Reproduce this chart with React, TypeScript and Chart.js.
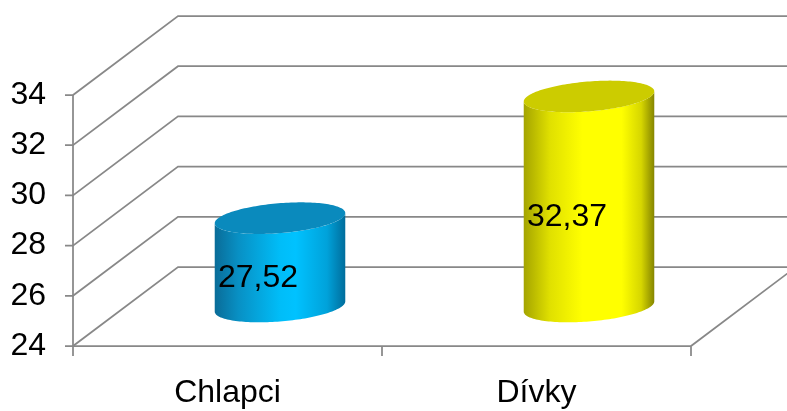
import React, { useEffect, useRef } from 'react';
import { Chart, registerables } from 'chart.js';

Chart.register(...registerables);

// ---- data ----
const categories: string[] = ['Chlapci', 'Dívky'];
const values: number[] = [27.52, 32.37];
const yMin = 24;
const yMax = 34;
const yStep = 2;

// ---- styles ----
const sideStops: [number, string][][] = [
  [[0, '#0a6c98'], [0.18, '#0890c4'], [0.5, '#00bdf8'], [0.62, '#00c2ff'], [0.86, '#00a2da'], [1, '#006d9c']],
  [[0, '#a4a400'], [0.2, '#e0e000'], [0.45, '#ffff00'], [0.75, '#ffff00'], [0.9, '#d6d600'], [1, '#858500']],
];
const topColors: string[] = ['#0a8abd', '#cccc00'];

const FONT = "'Liberation Sans', Arial, Helvetica, sans-serif";
const FONT_SIZE = 32;
const DEPTH_X = 105;
const DEPTH_Y = 79;
const LINE = '#888888';

const fmt = (v: number) => v.toFixed(2).replace('.', ',');

const threeD = {
  id: 'threeD',
  beforeDatasetsDraw(chart: any) {
    const { ctx, chartArea } = chart;
    const { left, right, top, bottom } = chartArea;
    const ys = chart.scales.y;
    ctx.save();
    ctx.strokeStyle = LINE;
    ctx.lineWidth = 1.75;
    ys.ticks.forEach((t: any) => {
      const y = ys.getPixelForValue(t.value);
      ctx.beginPath();
      ctx.moveTo(left - 8, y);
      ctx.lineTo(left, y);
      ctx.lineTo(left + DEPTH_X, y - DEPTH_Y);
      ctx.lineTo(right + DEPTH_X, y - DEPTH_Y);
      ctx.stroke();
    });
    ctx.beginPath();
    ctx.moveTo(left, top);
    ctx.lineTo(left, bottom + 10);
    ctx.moveTo(left, bottom);
    ctx.lineTo(right, bottom);
    ctx.lineTo(right + DEPTH_X, bottom - DEPTH_Y);
    const n = categories.length;
    for (let i = 1; i <= n; i++) {
      const x = left + ((right - left) * i) / n;
      ctx.moveTo(x, bottom);
      ctx.lineTo(x, bottom + 10);
    }
    ctx.stroke();
    ctx.restore();
  },
  afterDatasetsDraw(chart: any) {
    const { ctx, chartArea } = chart;
    const { left, right } = chartArea;
    const xs = chart.scales.x;
    const ys = chart.scales.y;
    const catW = (right - left) / categories.length;
    const r = catW * 0.2;
    const kx = 0.2 * DEPTH_X;
    const ky = 0.2 * DEPTH_Y;
    const t0 = Math.atan2(kx, r);
    const steps = 80;
    values.forEach((v, i) => {
      const cx = xs.getPixelForValue(i) + DEPTH_X / 2;
      const cyTop = ys.getPixelForValue(v) - DEPTH_Y / 2;
      const cyBot = ys.getPixelForValue(yMin) - DEPTH_Y / 2;
      const pt = (t: number, cy: number) => [cx + r * Math.cos(t) + kx * Math.sin(t), cy - ky * Math.sin(t)];
      const halfW = Math.sqrt(r * r + kx * kx);
      ctx.save();
      ctx.beginPath();
      for (let s = 0; s <= steps; s++) {
        const t = t0 + Math.PI + (Math.PI * s) / steps;
        const [x, y] = pt(t, cyTop);
        if (s === 0) ctx.moveTo(x, y);
        else ctx.lineTo(x, y);
      }
      for (let s = 0; s <= steps; s++) {
        const t = t0 + 2 * Math.PI - (Math.PI * s) / steps;
        const [x, y] = pt(t, cyBot);
        ctx.lineTo(x, y);
      }
      ctx.closePath();
      const g = ctx.createLinearGradient(cx - halfW, 0, cx + halfW, 0);
      sideStops[i].forEach(([o, c]) => g.addColorStop(o, c));
      ctx.fillStyle = g;
      ctx.fill();
      ctx.beginPath();
      for (let s = 0; s <= steps * 2; s++) {
        const t = (2 * Math.PI * s) / (steps * 2);
        const [x, y] = pt(t, cyTop);
        if (s === 0) ctx.moveTo(x, y);
        else ctx.lineTo(x, y);
      }
      ctx.closePath();
      ctx.fillStyle = topColors[i];
      ctx.fill();
      ctx.fillStyle = '#000';
      ctx.font = `${FONT_SIZE}px ${FONT}`;
      ctx.textAlign = 'center';
      ctx.textBaseline = 'middle';
      ctx.fillText(fmt(v), cx - 22, (cyTop + cyBot) / 2 + 16);
      ctx.restore();
    });
  },
};

export default function App() {
  const ref = useRef<HTMLCanvasElement | null>(null);
  useEffect(() => {
    if (!ref.current) return;
    const chart = new Chart(ref.current, {
      type: 'bar',
      data: {
        labels: categories,
        datasets: [
          {
            data: values,
            backgroundColor: 'rgba(0,0,0,0)',
            borderWidth: 0,
          },
        ],
      },
      options: {
        animation: false,
        responsive: false,
        events: [],
        layout: { padding: { top: 95, right: 96, left: 0, bottom: 0 } },
        plugins: { legend: { display: false }, tooltip: { enabled: false } },
        scales: {
          y: {
            min: yMin,
            max: yMax,
            grid: { display: false, drawTicks: false },
            border: { display: false },
            ticks: {
              stepSize: yStep,
              padding: 27,
              color: '#000',
              font: { family: FONT, size: FONT_SIZE },
            },
            afterFit: (s: any) => {
              s.width = 73;
            },
          },
          x: {
            grid: { display: false, drawTicks: false },
            border: { display: false },
            ticks: {
              padding: 28,
              color: '#000',
              font: { family: FONT, size: FONT_SIZE },
            },
            afterFit: (s: any) => {
              s.height = 65;
            },
          },
        },
      },
      plugins: [threeD],
    });
    return () => chart.destroy();
  }, []);
  return (
    <div style={{ position: 'fixed', left: 0, top: 0, width: 787, height: 411, background: '#fff' }}>
      <canvas ref={ref} width={787} height={411} style={{ display: 'block' }} />
    </div>
  );
}
